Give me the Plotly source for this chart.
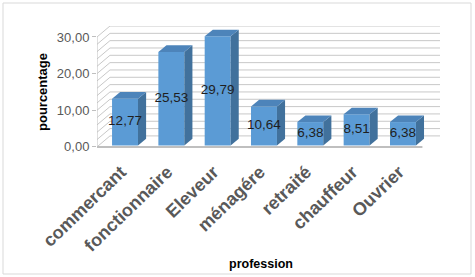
import plotly.graph_objects as go

categories = ["commercant", "fonctionnaire", "Eleveur", "ménagére", "retraité", "chauffeur", "Ouvrier"]
values = [12.77, 25.53, 29.79, 10.64, 6.38, 8.51, 6.38]
value_labels = ["12,77", "25,53", "29,79", "10,64", "6,38", "8,51", "6,38"]
y_ticks = [0, 10, 20, 30]
y_tick_labels = ["0,00", "10,00", "20,00", "30,00"]
grid_step = 2

# geometry / style (in axis units)
W, H = 475, 277
ML, MR, MT, MB = 97, 35, 26, 129
PW, PH = W - ML - MR, H - MT - MB
XR = [-0.605, 6.80]
YR = [-0.3, 33.0]
BAR_W = 0.56
BAR_BASE = 0.4
BDX, BDY = 0.175, 1.8      # bar depth
WDX, WDY = 0.28, 3.0       # wall depth

FRONT = "#5B9BD5"
SIDE = "#41719C"
TOP = "#4D84BA"
GRID = "#C8C8C8"

xs = list(range(len(categories)))
fig = go.Figure()

# front faces
fig.add_trace(go.Bar(x=xs, y=values, base=[BAR_BASE] * len(xs), width=BAR_W,
                     marker=dict(color=FRONT, line=dict(width=0)), hoverinfo="skip"))

# side & top faces
for x, v in zip(xs, values):
    top = v + BAR_BASE
    l, r = x - BAR_W / 2, x + BAR_W / 2
    fig.add_trace(go.Scatter(x=[r, r + BDX, r + BDX, r, r], y=[BAR_BASE, BAR_BASE + BDY, top + BDY, top, BAR_BASE],
                             fill="toself", fillcolor=SIDE, mode="lines", line=dict(width=0, color=SIDE),
                             hoverinfo="skip"))
    fig.add_trace(go.Scatter(x=[l, r, r + BDX, l + BDX, l], y=[top, top, top + BDY, top + BDY, top],
                             fill="toself", fillcolor=TOP, mode="lines", line=dict(width=0, color=TOP),
                             hoverinfo="skip"))

# value labels
fig.add_trace(go.Scatter(x=xs, y=[v / 2 + BAR_BASE for v in values], text=value_labels, mode="text",
                         textfont=dict(family="Liberation Sans", size=13.5, color="#1F1F1F"),
                         hoverinfo="skip"))

shapes = []
x0 = XR[0]
x1 = XR[1]
for g in range(0, y_ticks[-1] + 1, grid_step):
    shapes.append(dict(type="line", xref="x", yref="y", x0=x0 + WDX, x1=x1, y0=g + WDY, y1=g + WDY,
                       line=dict(color=GRID, width=1), layer="below"))
    shapes.append(dict(type="line", xref="x", yref="y", x0=x0, x1=x0 + WDX, y0=g, y1=g + WDY,
                       line=dict(color=GRID, width=1), layer="below"))
shapes.append(dict(type="line", xref="x", yref="y", x0=x0, x1=x0, y0=0, y1=y_ticks[-1],
                   line=dict(color="#BFBFBF", width=1), layer="below"))
shapes.append(dict(type="line", xref="x", yref="y", x0=x0, x1=x1 - WDX - 0.1, y0=0, y1=0,
                   line=dict(color="#BFBFBF", width=2), layer="below"))

def px_x(p):
    return (p - ML) / PW

def px_y(p):
    return (MT + PH - p) / PH

shapes.append(dict(type="rect", xref="paper", yref="paper", x0=px_x(3), x1=px_x(471), y0=px_y(274), y1=px_y(3),
                   line=dict(color="#D9D9D9", width=1), layer="below"))

fig.update_layout(
    width=W, height=H,
    margin=dict(l=ML, r=MR, t=MT, b=MB),
    paper_bgcolor="white", plot_bgcolor="white",
    showlegend=False,
    shapes=shapes,
    xaxis=dict(range=XR, tickvals=xs, ticktext=categories, tickangle=-44,
               tickfont=dict(family="Liberation Sans", size=18, color="#595959", weight="bold"),
               ticklabelstandoff=9, ticklabelshift=-4,
               showgrid=False, zeroline=False, showline=False, ticks=""),
    yaxis=dict(range=YR, tickvals=y_ticks, ticktext=y_tick_labels,
               tickfont=dict(family="Liberation Sans", size=13, color="#595959"),
               showgrid=False, zeroline=False, showline=False, ticks="outside", ticklen=4,
               tickcolor="#BFBFBF"),
    annotations=[
        dict(text="<b>pourcentage</b>", xref="paper", yref="paper", x=px_x(43), y=px_y(92),
             xanchor="center", yanchor="middle",
             textangle=-90, showarrow=False, font=dict(family="Liberation Sans", size=13, color="#000000")),
        dict(text="<b>profession</b>", xref="paper", yref="paper", x=px_x(261), y=px_y(264),
             xanchor="center", yanchor="middle",
             showarrow=False, font=dict(family="Liberation Sans", size=12.5, color="#000000")),
    ],
)

fig.write_html("out.html")
